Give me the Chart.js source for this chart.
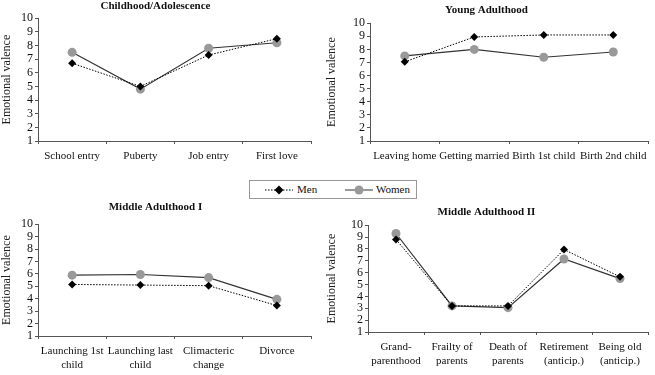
<!DOCTYPE html>
<html>
<head>
<meta charset="utf-8">
<script src="https://cdn.jsdelivr.net/npm/chart.js@4.4.1/dist/chart.umd.min.js"></script>
<style>
  html, body { margin: 0; padding: 0; background: #fff; }
  body { width: 655px; height: 375px; position: relative; overflow: hidden; font-family: 'Liberation Serif', 'Times New Roman', serif; }
  .panel { position: absolute; }
  .legend {
    position: absolute; left: 249px; top: 180px; width: 168px; height: 19px;
    border: 1px solid #999; box-sizing: border-box; font-size: 11px; color: #111;
  }
  .legend svg { position: absolute; top: 3px; }
  .legend span { position: absolute; top: 2px; }
</style>
</head>
<body>
<div class="panel" style="left:0;top:0;width:325px;height:170px"><canvas id="c1"></canvas></div>
<div class="panel" style="left:325px;top:0;width:330px;height:170px"><canvas id="c2"></canvas></div>
<div class="panel" style="left:0;top:200px;width:325px;height:175px"><canvas id="c3"></canvas></div>
<div class="panel" style="left:325px;top:200px;width:330px;height:175px"><canvas id="c4"></canvas></div>

<div class="legend">
  <svg width="30" height="12" style="left:14px">
    <line x1="1" y1="6" x2="29" y2="6" stroke="#000" stroke-width="1" stroke-dasharray="1.5,1.5"/>
    <polygon points="15,1.5 19.5,6 15,10.5 10.5,6" fill="#000"/>
  </svg>
  <span style="left:47px">Men</span>
  <svg width="30" height="12" style="left:94px">
    <line x1="1" y1="6" x2="29" y2="6" stroke="#333" stroke-width="1"/>
    <circle cx="15" cy="6" r="4.5" fill="#999"/>
  </svg>
  <span style="left:126px">Women</span>
</div>

<script>
// Data
const childCats = ['School entry', 'Puberty', 'Job entry', 'First love'];
const childMen = [6.7, 5.0, 7.3, 8.5];
const childWomen = [7.5, 4.8, 7.8, 8.2];

const youngCats = ['Leaving home', 'Getting married', 'Birth 1st child', 'Birth 2nd child'];
const youngMen = [7.05, 8.95, 9.1, 9.1];
const youngWomen = [7.5, 8.0, 7.4, 7.8];

const mid1Cats = [['Launching 1st', 'child'], ['Launching last', 'child'], ['Climacteric', 'change'], 'Divorce'];
const mid1Men = [5.15, 5.1, 5.05, 3.45];
const mid1Women = [5.9, 5.95, 5.7, 3.95];

const mid2Cats = [['Grand-', 'parenthood'], ['Frailty of', 'parents'], ['Death of', 'parents'], ['Retirement', '(anticip.)'], ['Being old', '(anticip.)']];
const mid2Men = [8.8, 3.2, 3.2, 7.95, 5.65];
const mid2Women = [9.3, 3.2, 3.05, 7.15, 5.5];

const yMin = 1;
const yMax = 10;

const serif = "'Liberation Serif', 'Times New Roman', serif";

// One panel of the figure
function makePanel(id, title, cats, men, women, box) {
  const ctx = document.getElementById(id);
  return new Chart(ctx, {
    type: 'line',
    data: {
      labels: cats,
      datasets: [
        {
          label: 'Men',
          data: men,
          borderColor: '#000',
          backgroundColor: '#000',
          borderWidth: 1,
          borderDash: [1.5, 1.5],
          pointStyle: 'rectRot',
          pointRadius: 4,
          pointBorderWidth: 0,
          tension: 0,
        },
        {
          label: 'Women',
          data: women,
          borderColor: '#333',
          backgroundColor: '#999',
          pointBorderColor: '#999',
          borderWidth: 1.2,
          pointStyle: 'circle',
          pointRadius: 4.5,
          pointBorderWidth: 0,
          tension: 0,
        },
      ],
    },
    options: {
      responsive: true,
      maintainAspectRatio: false,
      animation: false,
      layout: { padding: { left: 0, right: box.right, top: 0, bottom: 0 } },
      scales: {
        x: {
          offset: true,
          grid: { drawOnChartArea: false, drawTicks: true, tickLength: 3, color: '#555', offset: true },
          border: { color: '#555', width: 1 },
          ticks: { color: '#111', font: { family: serif, size: 11 }, padding: 6, maxRotation: 0, autoSkip: false },
          afterFit: (s) => { s.height = box.bottom; },
        },
        y: {
          min: yMin,
          max: yMax,
          grid: { drawOnChartArea: false, drawTicks: true, tickLength: 3, color: '#555' },
          border: { color: '#555', width: 1 },
          ticks: { stepSize: 1, autoSkip: false, color: '#111', font: { family: serif, size: 12 }, padding: 2 },
          title: { display: true, text: 'Emotional valence', color: '#222', font: { family: serif, size: 12 }, padding: { top: 0, bottom: 0 } },
          afterFit: (s) => { s.width = box.left; },
        },
      },
      plugins: {
        legend: { display: false },
        tooltip: { enabled: false },
        title: {
          display: true,
          text: title,
          color: '#111',
          font: { family: serif, size: 11, weight: 'bold' },
          padding: { top: box.titleTop, bottom: box.titleBottom },
        },
      },
    },
  });
}

makePanel('c1', 'Childhood/Adolescence', childCats, childMen, childWomen,
  { left: 38, right: 14, bottom: 29, titleTop: 0, titleBottom: 5 });
makePanel('c2', 'Young Adulthood', youngCats, youngMen, youngWomen,
  { left: 45, right: 7, bottom: 29, titleTop: 4, titleBottom: 6 });
makePanel('c3', 'Middle Adulthood I', mid1Cats, mid1Men, mid1Women,
  { left: 38, right: 14, bottom: 39, titleTop: 1, titleBottom: 10 });
makePanel('c4', 'Middle Adulthood II', mid2Cats, mid2Men, mid2Women,
  { left: 43, right: 7, bottom: 43, titleTop: 6, titleBottom: 6 });
</script>
</body>
</html>
